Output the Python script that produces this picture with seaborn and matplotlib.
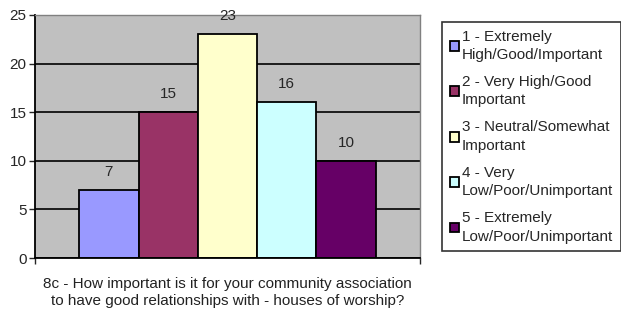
import matplotlib
matplotlib.use('Agg')
import matplotlib.pyplot as plt
import seaborn as sns
import pandas as pd

question = "8c - How important is it for your community association\nto have good relationships with - houses of worship?"
answers = ["1 - Extremely\nHigh/Good/Important",
           "2 - Very High/Good\nImportant",
           "3 - Neutral/Somewhat\nImportant",
           "4 - Very\nLow/Poor/Unimportant",
           "5 - Extremely\nLow/Poor/Unimportant"]
counts = [7, 15, 23, 16, 10]
colors = ["#9999FF", "#993366", "#FFFFCC", "#CCFFFF", "#660066"]

df = pd.DataFrame({"q": [""] * len(answers), "answer": answers, "count": counts})

sns.set_style("white")
plt.rcParams['font.family'] = ['Liberation Sans', 'DejaVu Sans']

fig = plt.figure(figsize=(6.21, 3.09), dpi=100)
ax = fig.add_axes([35 / 621, 51 / 309, 385 / 621, 243 / 309])
ax.set_facecolor("#C0C0C0")

sns.barplot(data=df, x="q", y="count", hue="answer", palette=colors,
            width=0.77, edgecolor="black", linewidth=1.3, saturation=1,
            legend=True, ax=ax)

for c in ax.containers:
    ax.bar_label(c, padding=8, fontsize=11)

ax.set_ylim(0, 25)
ax.set_xlim(-0.5, 0.5)
ax.set_yticks(range(0, 26, 5))
ax.yaxis.grid(True, color="black", linewidth=1.2)
ax.set_axisbelow(True)
ax.tick_params(axis="y", direction="out", length=4, width=1, labelsize=11, pad=2, left=True)
ax.set_xticks([-0.5, 0.5])
ax.set_xticklabels(["", ""])
ax.tick_params(axis="x", direction="out", length=4, width=1, bottom=True)
ax.set_ylabel("")
ax.set_xlabel(question, fontsize=11, color="#222222", labelpad=6, linespacing=1.3)

for s in ["left", "bottom"]:
    ax.spines[s].set_color("black")
    ax.spines[s].set_linewidth(1.3)
for s in ["top", "right"]:
    ax.spines[s].set_color("#808080")
    ax.spines[s].set_linewidth(1.0)

handles, labels = ax.get_legend_handles_labels()
ax.get_legend().remove()
leg = fig.legend(handles, labels, loc="upper left", bbox_to_anchor=(442 / 621, 1 - 22 / 309),
                 fontsize=11, frameon=True, fancybox=False, handlelength=0.6, handleheight=0.6,
                 handletextpad=0.2, labelspacing=0.85, borderpad=0.5, borderaxespad=0)
leg.get_frame().set_edgecolor("black")
leg.get_frame().set_linewidth(1.2)
for t in leg.get_texts():
    t.set_linespacing(1.4)

fig.savefig("out.png", dpi=100)
